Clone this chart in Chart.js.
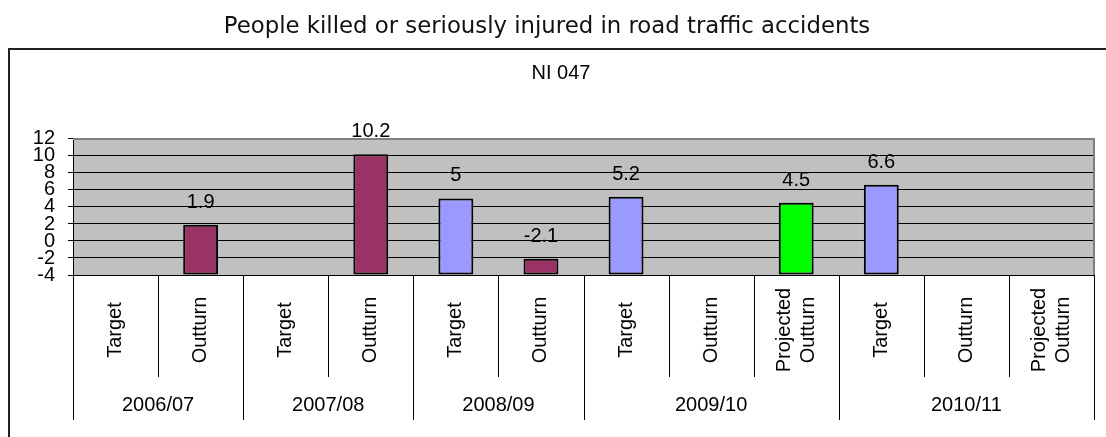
<!DOCTYPE html>
<html><head><meta charset="utf-8">
<style>html,body{margin:0;padding:0;background:#fff;overflow:hidden}#wrap{position:relative;width:1106px;height:437px}canvas{display:block}</style>
<script src="https://cdn.jsdelivr.net/npm/chart.js@4.4.1/dist/chart.umd.min.js"></script>
</head><body><div id="wrap"><canvas id="c" width="1106" height="437"></canvas></div>
<script>
const chartTitle = 'People killed or seriously injured in road traffic accidents';
const indicator = 'NI 047';
const years = ['2006/07','2006/07','2007/08','2007/08','2008/09','2008/09','2009/10','2009/10','2009/10','2010/11','2010/11','2010/11'];
const measures = ['Target','Outturn','Target','Outturn','Target','Outturn','Target','Outturn',['Projected','Outturn'],'Target','Outturn',['Projected','Outturn']];
const values = [null, 1.9, null, 10.2, 5, -2.1, 5.2, null, 4.5, 6.6, null, null];
const yTicks = [-4, -2, 0, 2, 4, 6, 8, 10, 12];

const palette = { Target: '#9999FF', Outturn: '#993366', Projected: '#00FF00' };
const kindOf = m => Array.isArray(m) ? 'Projected' : m;
const ARIAL = '"Liberation Sans", Arial, sans-serif';

const decor = {
  id: 'decor',
  beforeDraw(chart) {
    const { ctx, chartArea: a } = chart;
    ctx.save();
    ctx.fillStyle = '#fff';
    ctx.fillRect(0, 0, chart.width, chart.height);
    ctx.strokeStyle = '#222';
    ctx.lineWidth = 2;
    ctx.beginPath();
    ctx.moveTo(9, chart.height + 5); ctx.lineTo(9, 49); ctx.lineTo(chart.width + 5, 49);
    ctx.stroke();
    ctx.fillStyle = '#C0C0C0';
    ctx.fillRect(a.left, a.top, a.right - a.left, a.bottom - a.top);
    ctx.fillStyle = '#000';
    ctx.font = '20px ' + ARIAL;
    ctx.textAlign = 'center';
    ctx.textBaseline = 'middle';
    ctx.fillText(indicator, 561, 73.5);
    ctx.restore();
  },
  beforeDatasetsDraw(chart) {
    const { ctx, chartArea: a } = chart;
    ctx.save();
    ctx.strokeStyle = '#808080';
    ctx.lineWidth = 2;
    ctx.beginPath();
    ctx.moveTo(a.left, a.top); ctx.lineTo(a.right, a.top); ctx.lineTo(a.right, a.bottom);
    ctx.stroke();
    ctx.restore();
  },
  afterDatasetsDraw(chart) {
    const { ctx, chartArea: a } = chart;
    const xs = chart.scales.x;
    const n = measures.length;
    ctx.save();
    const meta = chart.getDatasetMeta(0);
    ctx.fillStyle = '#000';
    ctx.font = '20px ' + ARIAL;
    ctx.textAlign = 'center';
    ctx.textBaseline = 'middle';
    values.forEach((v, i) => {
      if (v === null) return;
      const el = meta.data[i];
      ctx.fillText(String(v), el.x, el.y - 22.5);
    });
    const bounds = [a.left];
    for (let i = 1; i < n; i++) bounds.push((xs.getPixelForValue(i - 1) + xs.getPixelForValue(i)) / 2);
    bounds.push(a.right);
    ctx.strokeStyle = '#000';
    ctx.lineWidth = 1;
    bounds.forEach((bx, i) => {
      const isGroup = i === 0 || i === n || years[i] !== years[i - 1];
      const x = Math.round(bx) + 0.5;
      ctx.beginPath();
      ctx.moveTo(x, a.bottom);
      ctx.lineTo(x, a.bottom + (isGroup ? 145 : 102));
      ctx.stroke();
    });
    const lh = 24;
    measures.forEach((m, i) => {
      const lines = Array.isArray(m) ? m : [m];
      const cx = xs.getPixelForValue(i);
      ctx.save();
      ctx.translate(cx, a.bottom + 55);
      ctx.rotate(-Math.PI / 2);
      lines.forEach((t, k) => {
        ctx.fillText(t, 0, (k - (lines.length - 1) / 2) * lh);
      });
      ctx.restore();
    });
    let start = 0;
    for (let i = 1; i <= n; i++) {
      if (i === n || years[i] !== years[i - 1]) {
        const cx = (bounds[start] + bounds[i]) / 2;
        ctx.fillText(years[start], cx, a.bottom + 130);
        start = i;
      }
    }
    ctx.restore();
  }
};

new Chart(document.getElementById('c'), {
  type: 'bar',
  data: {
    labels: measures,
    datasets: [{
      data: values,
      base: -4,
      backgroundColor: measures.map(m => palette[kindOf(m)]),
      borderColor: '#000',
      borderWidth: 2,
      borderSkipped: false,
      categoryPercentage: 1,
      barPercentage: 0.41
    }]
  },
  options: {
    responsive: false,
    devicePixelRatio: 1,
    animation: false,
    layout: { padding: { top: 0, left: 0, right: 12, bottom: 0 } },
    plugins: {
      legend: { display: false },
      tooltip: { enabled: false },
      title: {
        display: true,
        text: chartTitle,
        color: '#111',
        font: { family: '"DejaVu Sans", Verdana, sans-serif', size: 22.8, weight: 'normal', lineHeight: 1.2 },
        padding: { top: 13, bottom: 98.6 }
      }
    },
    scales: {
      x: {
        offset: true,
        grid: { display: false },
        border: { display: true, color: '#000', width: 1 },
        ticks: { display: false },
        afterFit: s => { s.height = 162; }
      },
      y: {
        min: -4,
        max: 12,
        afterBuildTicks: s => { s.ticks = yTicks.map(v => ({ value: v })); },
        afterFit: s => { s.width = 73; },
        grid: { color: '#000', lineWidth: 1, tickLength: 5, drawTicks: true },
        border: { display: true, color: '#000', width: 1 },
        ticks: { autoSkip: false, padding: 13, color: '#000', font: { family: ARIAL, size: 20 } }
      }
    }
  },
  plugins: [decor]
});
</script>
</body></html>
